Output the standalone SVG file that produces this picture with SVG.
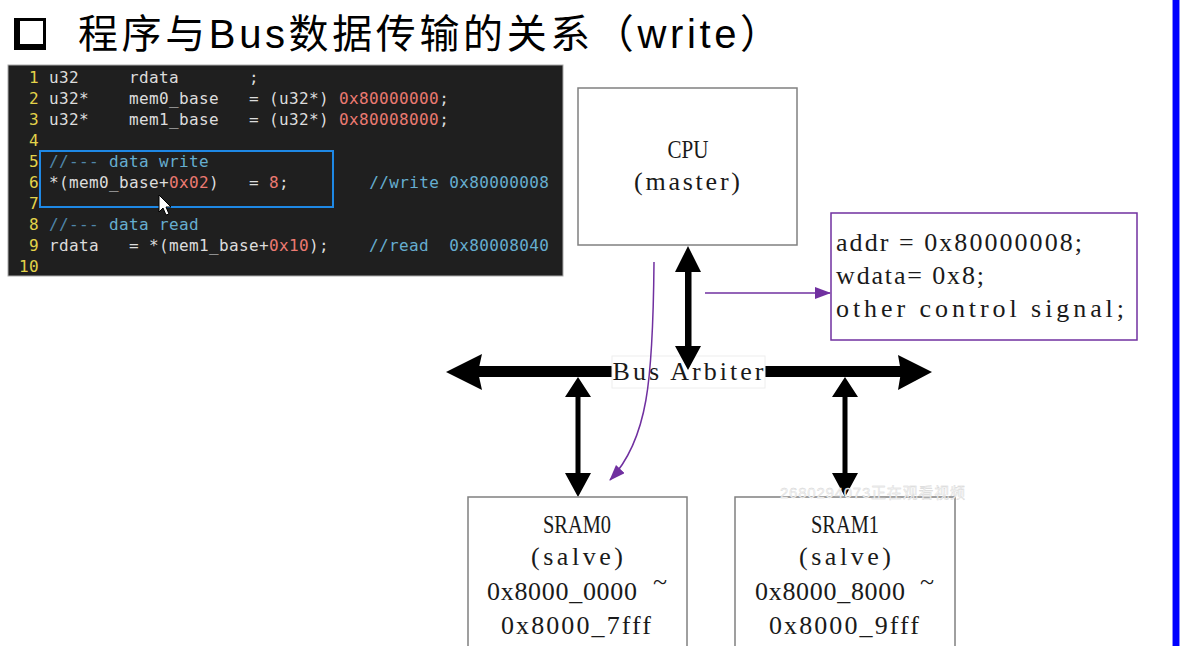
<svg xmlns="http://www.w3.org/2000/svg" width="1184" height="646" viewBox="0 0 1184 646">
<defs>
<style>
.code{font-family:"DejaVu Sans Mono","Liberation Mono",monospace;font-size:16px;letter-spacing:0.37px;fill:#dcdcdc;white-space:pre}
.ln{fill:#e3d34a;text-anchor:end}
.num{fill:#ec7a72}
.cm1{fill:#4f86aa}
.cm2{fill:#66aed0}
.box{fill:#ffffff;stroke:#808080;stroke-width:1.5}
.lbl{font-family:"Liberation Serif","DejaVu Serif",serif;font-size:26px;fill:#1a1a1a;white-space:pre}
.mid{text-anchor:middle}
.blk{fill:#000000}
.pur{stroke:#7030a0;stroke-width:1.5;fill:none}
</style>
<marker id="pb" viewBox="0 0 16 12" refX="15" refY="6" markerWidth="16" markerHeight="12" markerUnits="userSpaceOnUse" orient="auto">
<path d="M0,0 L16,6 L0,12 z" fill="#7030a0"/>
</marker>
</defs>
<rect x="0" y="0" width="1184" height="646" fill="#ffffff"/>
<rect x="1172" y="0" width="8" height="646" fill="#8a8aff"/>
<rect x="1173" y="0" width="6" height="646" fill="#0000ff"/>

<g id="title">
<rect x="14" y="18" width="32" height="32" fill="#000000"/>
<rect x="20" y="21" width="23" height="23" fill="#ffffff"/>
<text x="78" y="48" font-family="'Liberation Sans','Noto Sans CJK SC',sans-serif" font-size="40" textLength="702" fill="#000000">程序与Bus数据传输的关系（write）</text>
</g>

<g id="code">
<rect x="8" y="65" width="555" height="211" fill="#1f1f1f" stroke="#aaaaaa" stroke-width="1"/>
<g class="code">
<text class="ln" x="39" y="83">1</text><text xml:space="preserve" x="49" y="83">u32     rdata       ;</text>
<text class="ln" x="39" y="104">2</text><text xml:space="preserve" x="49" y="104">u32*    mem0_base   = (u32*) <tspan class="num">0x80000000</tspan>;</text>
<text class="ln" x="39" y="125">3</text><text xml:space="preserve" x="49" y="125">u32*    mem1_base   = (u32*) <tspan class="num">0x80008000</tspan>;</text>
<text class="ln" x="39" y="146">4</text>
<text class="ln" x="39" y="167">5</text><text xml:space="preserve" x="49" y="167"><tspan class="cm1">//---</tspan><tspan class="cm2"> data write</tspan></text>
<text class="ln" x="39" y="188">6</text><text xml:space="preserve" x="49" y="188">*(mem0_base+<tspan class="num">0x02</tspan>)   = <tspan class="num">8</tspan>;        <tspan class="cm2">//write 0x80000008</tspan></text>
<text class="ln" x="39" y="209">7</text>
<text class="ln" x="39" y="230">8</text><text xml:space="preserve" x="49" y="230"><tspan class="cm1">//---</tspan><tspan class="cm2"> data read</tspan></text>
<text class="ln" x="39" y="251">9</text><text xml:space="preserve" x="49" y="251">rdata   = *(mem1_base+<tspan class="num">0x10</tspan>);    <tspan class="cm2">//read  0x80008040</tspan></text>
<text class="ln" x="39" y="272">10</text>
</g>
<rect x="40" y="151" width="293" height="56" fill="none" stroke="#1e88e5" stroke-width="2"/>
<path d="M159,195 L159,212 L163,208 L166,215 L169,214 L166,207 L171,207 Z" fill="#ffffff" stroke="#000000" stroke-width="1"/>
</g>

<g id="connectors">
<rect x="478" y="366" width="424" height="11" class="blk"/>
<path d="M446,372 L482,354 L478,372 L482,390 Z" class="blk"/>
<path d="M932,372 L898,355 L901,372 L898,390 Z" class="blk"/>
<rect x="575.5" y="392" width="5" height="86" class="blk"/>
<path d="M578,377 L565,397 L591,397 Z M578,497 L565,473 L591,473 Z" class="blk"/>
<rect x="842.5" y="392" width="5" height="86" class="blk"/>
<path d="M845,377 L832,397 L858,397 Z M845,497 L832,473 L858,473 Z" class="blk"/>
</g>

<g id="bus-arbiter">
<rect x="612" y="356" width="153" height="32" fill="#ffffff" stroke="#eeeeee" stroke-width="1"/>
<text x="688" y="380" class="lbl mid" textLength="151">Bus Arbiter</text>
</g>

<g id="connectors-top">
<rect x="685" y="266" width="6.5" height="86" class="blk"/>
<path d="M688,246 L675,272 L701,272 Z M688,370 L675,346 L701,346 Z" class="blk"/>
<path d="M705,293 L830,293" class="pur" marker-end="url(#pb)"/>
<path d="M654,262 C653,380 648,440 610,480" class="pur" marker-end="url(#pb)"/>
</g>

<g id="cpu">
<rect x="578" y="88" width="219" height="157" class="box"/>
<text x="688" y="158" class="lbl mid" textLength="41" lengthAdjust="spacingAndGlyphs">CPU</text>
<text x="687" y="190" class="lbl mid" textLength="106">(master)</text>
</g>

<g id="signals">
<rect x="831" y="213" width="306" height="127" fill="#ffffff" stroke="#7030a0" stroke-width="1.5"/>
<text x="836" y="251" class="lbl" textLength="246">addr = 0x80000008;</text>
<text x="836" y="284" class="lbl" textLength="148">wdata= 0x8;</text>
<text x="836" y="317" class="lbl" textLength="288">other control signal;</text>
</g>

<g id="sram0">
<rect x="468" y="497" width="219" height="170" class="box"/>
<text x="577" y="533" class="lbl mid" textLength="68" lengthAdjust="spacingAndGlyphs">SRAM0</text>
<text x="577" y="565" class="lbl mid" textLength="92">(salve)</text>
<text x="487" y="600" class="lbl" textLength="150">0x8000_0000</text>
<text x="660" y="590" class="lbl mid" font-size="22">~</text>
<text x="576" y="634" class="lbl mid" textLength="150">0x8000_7fff</text>
</g>

<g id="sram1">
<rect x="735" y="497" width="220" height="170" class="box"/>
<text x="845" y="533" class="lbl mid" textLength="68" lengthAdjust="spacingAndGlyphs">SRAM1</text>
<text x="845" y="565" class="lbl mid" textLength="92">(salve)</text>
<text x="755" y="600" class="lbl" textLength="150">0x8000_8000</text>
<text x="927" y="590" class="lbl mid" font-size="22">~</text>
<text x="844" y="634" class="lbl mid" textLength="150">0x8000_9fff</text>
</g>

<text x="780" y="498" font-family="'Liberation Sans','Noto Sans CJK SC',sans-serif" font-size="15" fill="#f4f4f4" stroke="#d0d0d0" stroke-width="0.3" textLength="185">2680294073正在观看视频</text>
</svg>
